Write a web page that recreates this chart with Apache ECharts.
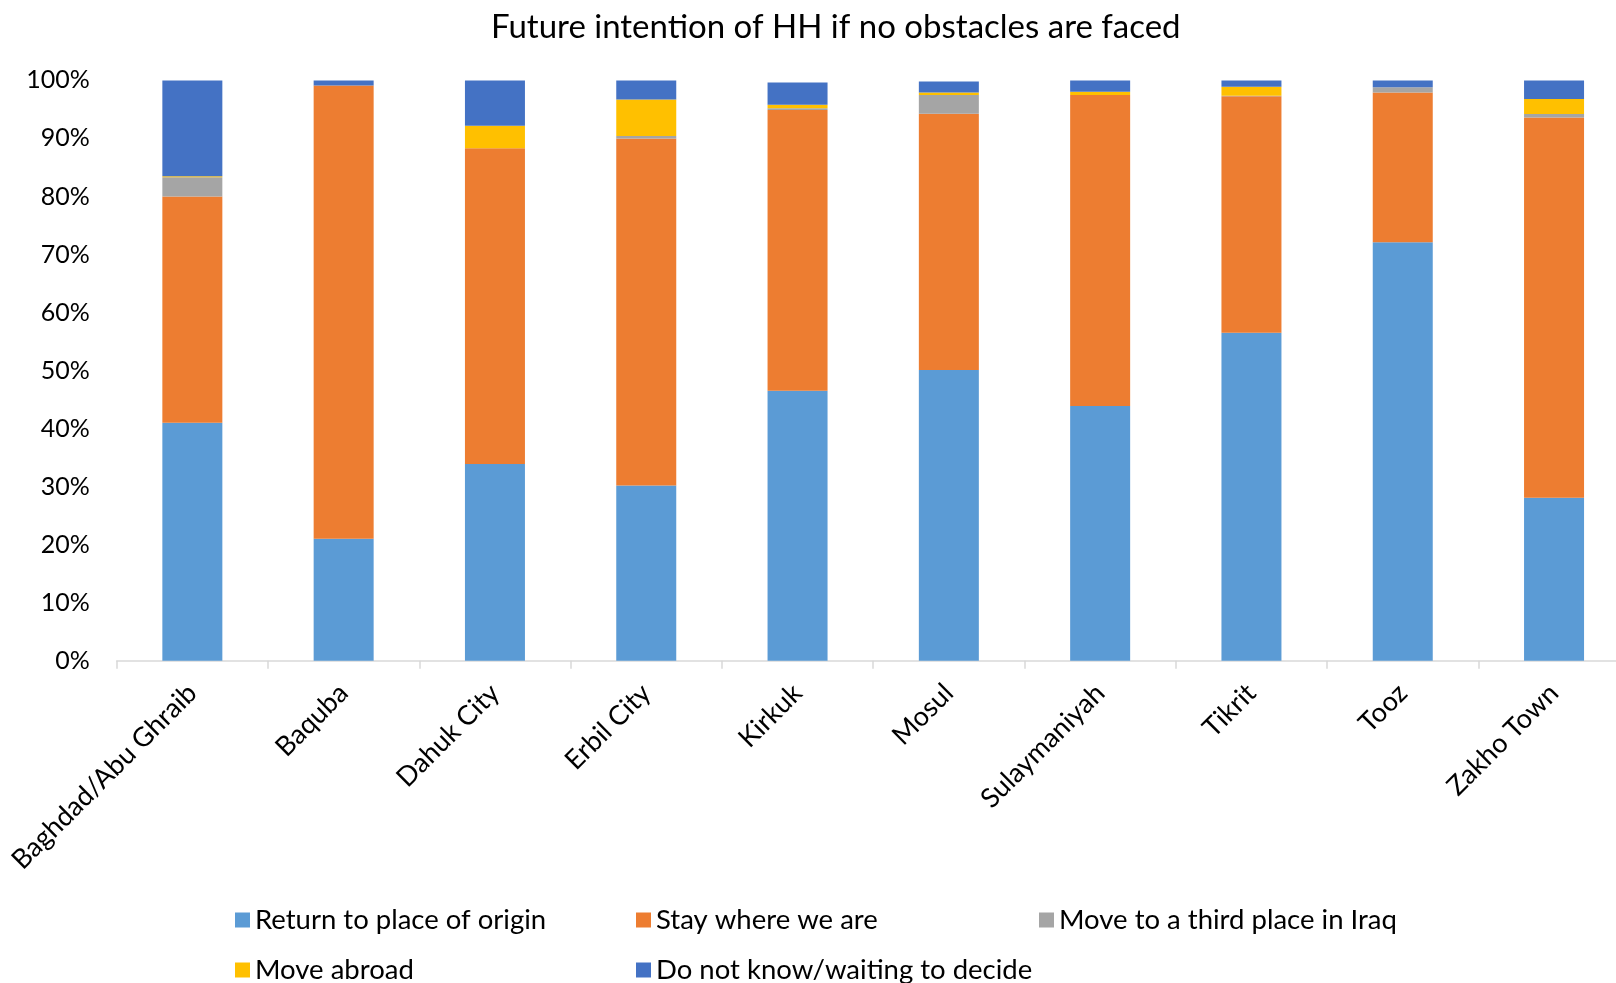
<!DOCTYPE html>
<html>
<head>
<meta charset="utf-8">
<script src="https://cdn.jsdelivr.net/npm/echarts@6/dist/echarts.min.js"></script>
<style>
  html, body { margin: 0; padding: 0; background: #fff; }
  #chart { width: 1616px; height: 983px; }
</style>
</head>
<body>
<div id="chart"></div>
<script>
// Locations surveyed
const categories = ['Baghdad/Abu Ghraib', 'Baquba', 'Dahuk City', 'Erbil City', 'Kirkuk',
  'Mosul', 'Sulaymaniyah', 'Tikrit', 'Tooz', 'Zakho Town'];

// Share of households (%) by intention
const returnOrigin = [41.0, 21.0, 33.9, 30.2, 46.5, 50.1, 43.9, 56.5, 72.1, 28.1];
const stayHere     = [39.0, 78.1, 54.4, 59.8, 48.4, 44.15, 53.6, 40.75, 25.8, 65.5];
const thirdPlace   = [3.3, 0, 0, 0.4, 0.3, 3.25, 0, 0.1, 0.9, 0.6];
const abroad       = [0.2, 0, 3.9, 6.3, 0.6, 0.4, 0.55, 1.55, 0, 2.6];
const dontKnow     = [16.5, 0.9, 7.8, 3.3, 3.85, 1.9, 1.95, 1.1, 1.2, 3.2];

const seriesNames = ['Return to place of origin', 'Stay where we are', 'Move to a third place in Iraq',
  'Move abroad', 'Do not know/waiting to decide'];
const seriesData = [returnOrigin, stayHere, thirdPlace, abroad, dontKnow];
const colors = ['#5B9BD5', '#ED7D31', '#A5A5A5', '#FFC000', '#4472C4'];

const FONT = 'Lato';
const txt = '#000';

// legend laid out as a 3-column grid, one component per entry
const legendPos = [[235, 904], [636, 904], [1039, 904], [235, 954], [636, 954]];
const legends = seriesNames.map((name, i) => ({
  data: [name],
  left: legendPos[i][0],
  top: legendPos[i][1],
  itemWidth: 15,
  itemHeight: 15,
  itemGap: 0,
  icon: 'rect',
  padding: 0,
  textStyle: { fontFamily: FONT, fontSize: 27.5, color: txt, lineHeight: 32, padding: [0, 0, 0, 0] }
}));

const chart = echarts.init(document.getElementById('chart'), null, { renderer: 'canvas' });
chart.setOption({
  animation: false,
  color: colors,
  title: {
    text: 'Future intention of HH if no obstacles are faced',
    left: 486,
    top: 6,
    textStyle: { fontFamily: FONT, fontSize: 33, fontWeight: 'normal', color: txt }
  },
  legend: legends,
  grid: {
    left: 116.7, top: 80.4, width: 1513, height: 580.3,
    containLabel: false, outerBoundsMode: 'none'
  },
  xAxis: {
    type: 'category',
    data: categories,
    boundaryGap: true,
    axisLine: { lineStyle: { color: '#D9D9D9', width: 1.5 } },
    axisTick: { show: true, length: 8, lineStyle: { color: '#D9D9D9', width: 1.5 } },
    axisLabel: {
      rotate: 45, margin: 28, interval: 0,
      fontFamily: FONT, fontSize: 27, color: txt
    }
  },
  yAxis: {
    type: 'value',
    min: 0, max: 100, interval: 10,
    axisLine: { show: false },
    axisTick: { show: false },
    splitLine: { show: false },
    axisLabel: {
      formatter: '{value}%', margin: 27,
      fontFamily: FONT, fontSize: 25, color: txt
    }
  },
  series: seriesNames.map((name, i) => ({
    name: name,
    type: 'bar',
    stack: 'total',
    barWidth: 60,
    data: seriesData[i],
    itemStyle: { color: colors[i] }
  }))
});
</script>
</body>
</html>
